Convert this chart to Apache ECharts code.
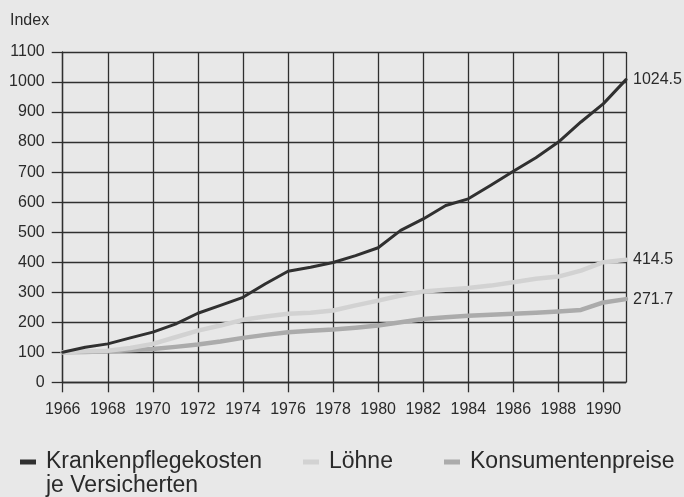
<!DOCTYPE html>
<html>
<head>
<meta charset="utf-8">
<script src="https://cdn.jsdelivr.net/npm/echarts@6/dist/echarts.min.js"></script>
<style>
html,body{margin:0;padding:0;background:#e8e8e8;}
#c{width:684px;height:497px;}
</style>
</head>
<body>
<div id="c"></div>
<script>
var years = [1966,1967,1968,1969,1970,1971,1972,1973,1974,1975,1976,1977,1978,1979,1980,1981,1982,1983,1984,1985,1986,1987,1988,1989,1990,1991];
var kranken = [100,117,128,148,167,194,230,256,283,328,370,383,399,422,448,506,544,589,611,656,703,748,800,867,928,1008];
var loehne = [100,103,105,114,128,150,172,189,208,219,228,232,239,256,272,289,302,308,314,322,333,345,352,372,400,408];
var konsum = [100,101,103,107,111,118,126,136,148,158,167,172,176,182,189,200,211,217,222,225,228,232,236,241,266,277];
var seriesNames = ['Krankenpflegekosten je Versicherten','Löhne','Konsumentenpreise'];
var legendNames = ['Krankenpflegekosten','Löhne','Konsumentenpreise'];
var endLabels = ['1024.5','414.5','271.7'];
var yTicks = {min:0, max:1100, step:100};
var xTicks = {min:1966, max:1991, step:2};

function pairs(vals){ return years.map(function(y,i){ return [y, vals[i]]; }); }

var FONT = '"Liberation Sans", Arial, sans-serif';
var gridColor = '#2f2f2f';
var colors = ['#303030','#d2d2d2','#ababab'];
var widths = [3, 4.5, 4.5];
var allData = [kranken, loehne, konsum];

var chart = echarts.init(document.getElementById('c'), null, {renderer:'canvas'});
var series = allData.map(function(d,i){
  return {
    name: seriesNames[i],
    type: 'line',
    data: pairs(d),
    showSymbol: false,
    symbol: 'none',
    z: 10 - i,
    lineStyle: {color: colors[i], width: widths[i], cap:'round', join:'round'},
    itemStyle: {color: colors[i]},
    endLabel: {
      show: true,
      distance: 7,
      formatter: function(){ return endLabels[i]; },
      fontFamily: FONT, fontSize: 16, color: '#2a2a2a'
    },
    emphasis: {disabled: true},
    animation: false
  };
});

function legendAt(idx, left){
  return {
    data: [{name: seriesNames[idx], icon: 'rect'}],
    left: left, top: 450,
    itemWidth: 16, itemHeight: 5,
    formatter: function(){ return legendNames[idx]; },
    textStyle: {fontFamily: FONT, fontSize: 23, color: '#2a2a2a', padding:[0,0,0,5], lineHeight: 24},
    selectedMode: false,
    padding: 0
  };
}

chart.setOption({
  backgroundColor: '#e8e8e8',
  animation: false,
  grid: {left: 62.7, right: 58, top: 52, bottom: 114.7, containLabel: false},
  legend: [legendAt(0, 20), legendAt(1, 303), legendAt(2, 444)],
  xAxis: {
    type: 'value', min: xTicks.min, max: xTicks.max, interval: xTicks.step,
    axisLine: {show: true, lineStyle: {color: gridColor, width: 1.3}},
    axisTick: {show: true, length: 10, lineStyle: {color: gridColor, width: 1.3}},
    splitLine: {show: true, lineStyle: {color: gridColor, width: 1.3}},
    axisLabel: {
      margin: 19, fontFamily: FONT, fontSize: 16, color: '#2a2a2a',
      showMaxLabel: false,
      formatter: function(v){ return (v - xTicks.min) % xTicks.step === 0 ? String(v) : ''; }
    }
  },
  yAxis: {
    type: 'value', min: yTicks.min, max: yTicks.max, interval: yTicks.step,
    axisLine: {show: true, lineStyle: {color: gridColor, width: 1.3}},
    axisTick: {show: true, length: 11, lineStyle: {color: gridColor, width: 1.3}},
    splitLine: {show: true, lineStyle: {color: gridColor, width: 1.3}},
    axisLabel: {margin: 18, fontFamily: FONT, fontSize: 16, color: '#2a2a2a',
      formatter: function(v){ return String(v); }}
  },
  graphic: [
    {type: 'text', left: 10, top: 13, style: {text: 'Index', font: '16px ' + FONT, fill: '#2a2a2a'}},
    {type: 'text', left: 46, top: 474, style: {text: 'je Versicherten', font: '23px ' + FONT, fill: '#2a2a2a'}}
  ],
  series: series
});
</script>
</body>
</html>
